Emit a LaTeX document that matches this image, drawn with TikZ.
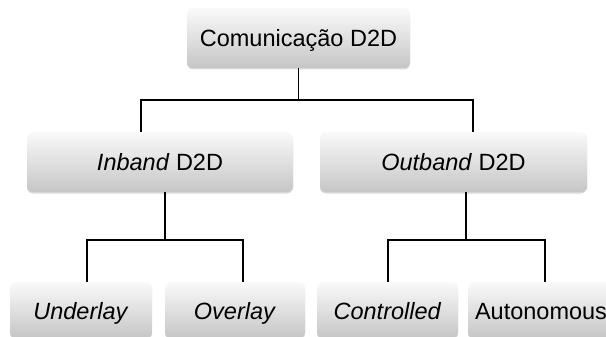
\documentclass[tikz,border=0pt]{standalone}
\usepackage{fontspec}
\setmainfont{Liberation Sans}
\usetikzlibrary{positioning, shadows}
\tikzset{
  box/.style={rounded corners=6pt, top color=gray!4, bottom color=gray!45,
    drop shadow={shadow xshift=0pt, shadow yshift=-1.5pt, opacity=0.3},
    font=\fontsize{23.5}{27}\selectfont, inner sep=0pt, minimum height=60pt,
    text height=23pt, text depth=5pt},
  link/.style={line width=1.1pt, black},
}

\begin{document}
\begin{tikzpicture}[x=1pt, y=-1pt]
\clip (0,0) rectangle (606,337);
\useasboundingbox (0,0) rectangle (606,337);
\node[box, minimum width=223pt] (d2d) at (298.5,38) {Comunica\c{c}\~{a}o D2D};
\node[box, minimum width=266pt] (inband) at (160,162) {\textit{Inband} D2D};
\node[box, minimum width=267pt] (outband) at (453.5,162) {\textit{Outband} D2D};
\node[box, minimum width=142pt, minimum height=56pt] (underlay) at (81,310) {\textit{Underlay}};
\node[box, minimum width=140pt, minimum height=56pt] (overlay) at (235,310) {\textit{Overlay}};
\node[box, minimum width=141pt, minimum height=56pt] (controlled) at (387.5,310) {\textit{Controlled}};
\node[box, minimum width=146pt, minimum height=56pt] (autonomous) at (541,310) {Autonomous};
% tree connectors
\coordinate (j0) at (298.5,100);
\coordinate (j1) at (165,240);
\coordinate (j2) at (466,240);
\draw[link] (d2d.south) -- (j0);
\draw[link] (j0) -| ([xshift=-19pt]inband.north);
\draw[link] (j0) -| ([xshift=19.5pt]outband.north);
\draw[link] ([xshift=5pt]inband.south) -- (j1);
\draw[link] (j1) -| ([xshift=6pt]underlay.north);
\draw[link] (j1) -| ([xshift=8pt]overlay.north);
\draw[link] ([xshift=12.5pt]outband.south) -- (j2);
\draw[link] (j2) -| ([xshift=0.5pt]controlled.north);
\draw[link] (j2) -| ([xshift=4pt]autonomous.north);
\end{tikzpicture}
\end{document}
